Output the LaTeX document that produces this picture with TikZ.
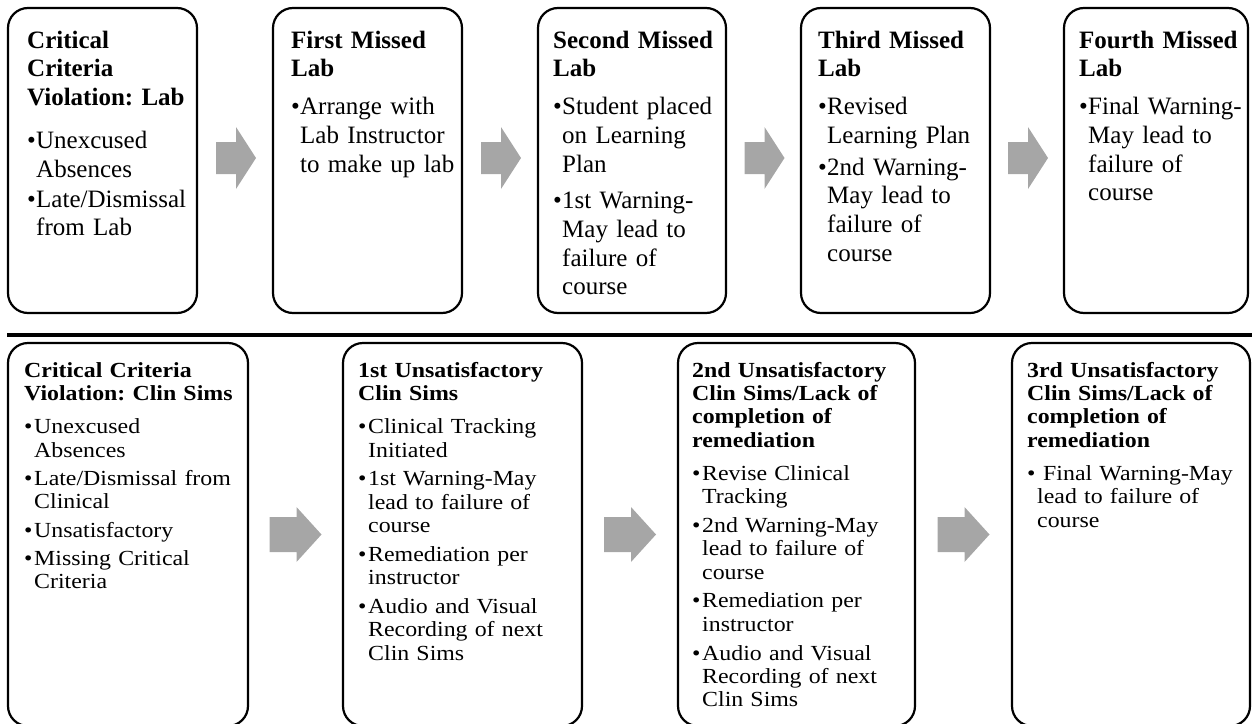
\documentclass[tikz,border=0pt]{standalone}
\usepackage{fontspec}
\setmainfont{Liberation Serif}
\newfontfamily\botfont{Liberation Serif}[FakeStretch=1.11]
\usetikzlibrary{calc}
\definecolor{arrowgray}{HTML}{A6A6A6}
\frenchspacing
\newlength\bind
\newlength\igap
\newcommand\ttl[1]{\noindent{\bfseries\rule{0pt}{20pt}#1\par}}
\newcommand\bi[2][\igap]{\vspace{#1}\hangindent=\bind\hangafter=1\noindent\makebox[\bind][l]{\textbullet}#2\par}
\begin{document}
\begin{tikzpicture}[x=1pt,y=-1pt,
  box/.style={draw=black, line width=2.2pt, rounded corners=20pt, inner sep=0pt, outer sep=0pt, anchor=north west},
  topbox/.style={box, minimum height=305pt},
  botbox/.style={box, minimum height=383pt},
  ttop/.style={anchor=north west, inner sep=0pt, text width=172pt, align=left, font=\frenchspacing\fontsize{25}{28.7}\selectfont},
  tbot/.style={anchor=north west, inner sep=0pt, text width=225pt, align=left, font=\frenchspacing\botfont\fontsize{21.5}{23.3}\selectfont},
  blk/.style={fill=arrowgray, draw=none},
  sepline/.style={draw=black, line width=3.5pt}]
\useasboundingbox (0,0) rectangle (1252,723);
\clip (0,0) rectangle (1252,723);

% top row boxes
\node[topbox, minimum width=189pt] (t1) at (8,8) {};
\node[topbox, minimum width=189pt] (t2) at (273,8) {};
\node[topbox, minimum width=188pt] (t3) at (538,8) {};
\node[topbox, minimum width=189pt] (t4) at (801,8) {};
\node[topbox, minimum width=184pt] (t5) at (1064,8) {};

% top row texts
\node[ttop] (t1x) at ([shift={(19,20)}]t1.north west) {\setlength\bind{9pt}\setlength\igap{1.5pt}%
  \ttl{Critical\newline Criteria\newline Violation: Lab}%
  \bi[14pt]{Unexcused\newline Absences}%
  \bi{Late/Dismissal\newline from Lab}};
\node[ttop] (t2x) at ([shift={(18,20)}]t2.north west) {\setlength\bind{9pt}\setlength\igap{3pt}%
  \ttl{First Missed\newline Lab}%
  \bi[9pt]{Arrange with\newline Lab Instructor\newline to make up lab}};
\node[ttop] (t3x) at ([shift={(15,20)}]t3.north west) {\setlength\bind{9pt}\setlength\igap{8pt}%
  \ttl{Second Missed\newline Lab}%
  \bi[9pt]{Student placed\newline on Learning\newline Plan}%
  \bi{1st Warning-\newline May lead to\newline failure of\newline course}};
\node[ttop] (t4x) at ([shift={(17,20)}]t4.north west) {\setlength\bind{9pt}\setlength\igap{3pt}%
  \ttl{Third Missed\newline Lab}%
  \bi[9pt]{Revised\newline Learning Plan}%
  \bi{2nd Warning-\newline May lead to\newline failure of\newline course}};
\node[ttop] (t5x) at ([shift={(15,20)}]t5.north west) {\setlength\bind{9pt}\setlength\igap{3pt}%
  \ttl{Fourth Missed\newline Lab}%
  \bi[9pt]{Final Warning-\newline May lead to\newline failure of\newline course}};

% top arrows
\coordinate (ta1) at ($(t1.east)!0.5!(t2.west)$);
\coordinate (ta2) at ($(t2.east)!0.5!(t3.west)$);
\coordinate (ta3) at ($(t3.east)!0.5!(t4.west)$);
\coordinate (ta4) at ($(t4.east)!0.5!(t5.west)$);
\foreach \a in {ta1,ta2,ta3,ta4}{
  \fill[blk] (\a) ++(-19,-18.5) -- ++(20,0) -- ++(0,-15) -- ++(20,31) -- ++(-20,31) -- ++(0,-15) -- ++(-20,0) -- cycle;
}

% separator
\coordinate (L1) at (7,335);
\coordinate (L2) at (1252,335);
\draw[sepline] (L1) -- (L2);

% bottom row boxes
\node[botbox, minimum width=240pt] (b1) at (8,343) {};
\node[botbox, minimum width=239pt] (b2) at (343,343) {};
\node[botbox, minimum width=237pt] (b3) at (678,343) {};
\node[botbox, minimum width=238pt] (b4) at (1012,343) {};

% bottom row texts
\node[tbot] (b1x) at ([shift={(16,14)}]b1.north west) {\setlength\bind{10pt}\setlength\igap{5pt}%
  \ttl{Critical Criteria\newline Violation: Clin Sims}%
  \bi[10pt]{Unexcused\newline Absences}%
  \bi{Late/Dismissal from\newline Clinical}%
  \bi{Unsatisfactory}%
  \bi{Missing Critical\newline Criteria}};
\node[tbot] (b2x) at ([shift={(15,14)}]b2.north west) {\setlength\bind{10pt}\setlength\igap{5.5pt}%
  \ttl{1st Unsatisfactory\newline Clin Sims}%
  \bi[10pt]{Clinical Tracking\newline Initiated}%
  \bi{1st Warning-May\newline lead to failure of\newline course}%
  \bi{Remediation per\newline instructor}%
  \bi{Audio and Visual\newline Recording of next\newline Clin Sims}};
\node[tbot] (b3x) at ([shift={(14,14)}]b3.north west) {\setlength\bind{10pt}\setlength\igap{5.5pt}%
  \ttl{2nd Unsatisfactory\newline Clin Sims/Lack of\newline completion of\newline remediation}%
  \bi[10pt]{Revise Clinical\newline Tracking}%
  \bi{2nd Warning-May\newline lead to failure of\newline course}%
  \bi{Remediation per\newline instructor}%
  \bi{Audio and Visual\newline Recording of next\newline Clin Sims}};
\node[tbot] (b4x) at ([shift={(15,14)}]b4.north west) {\setlength\bind{10pt}\setlength\igap{5.5pt}%
  \ttl{3rd Unsatisfactory\newline Clin Sims/Lack of\newline completion of\newline remediation}%
  \bi[10pt]{\hspace{6pt}Final Warning-May\newline lead to failure of\newline course}};

% bottom arrows
\coordinate (ba1) at ($(b1.east)!0.5!(b2.west)$);
\coordinate (ba2) at ($(b2.east)!0.5!(b3.west)$);
\coordinate (ba3) at ($(b3.east)!0.5!(b4.west)$);
\foreach \a in {ba1,ba2,ba3}{
  \fill[blk] (\a) ++(-26,-17.5) -- ++(27,0) -- ++(0,-10) -- ++(25,27.5) -- ++(-25,27.5) -- ++(0,-10) -- ++(-27,0) -- cycle;
}
\end{tikzpicture}
\end{document}
